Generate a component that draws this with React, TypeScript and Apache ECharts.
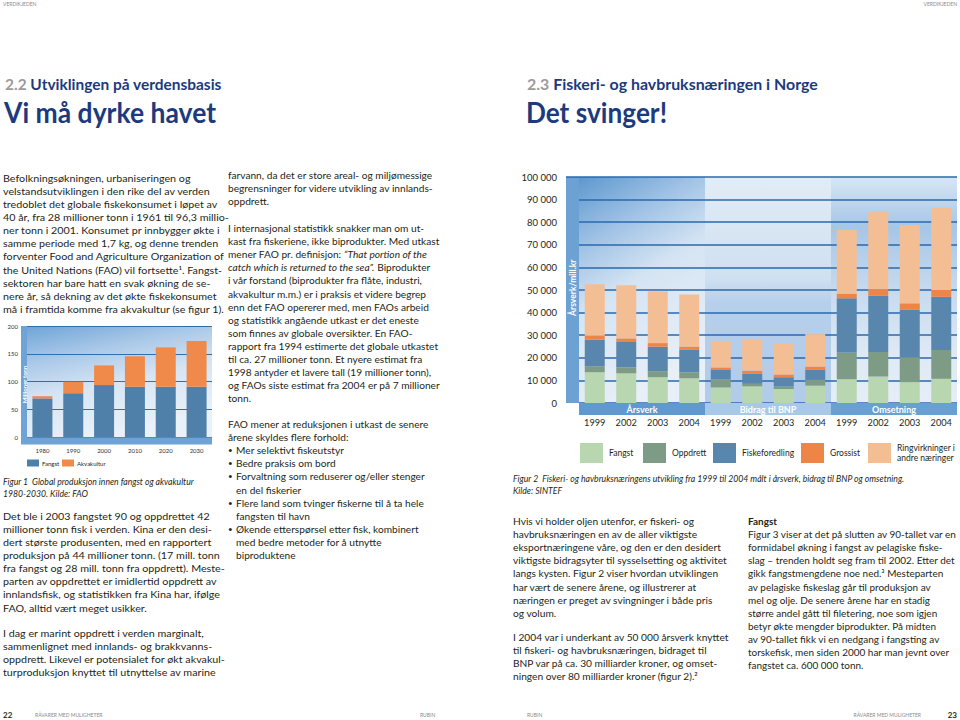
import React, { useEffect, useRef } from 'react';
import * as echarts from 'echarts';

// ---------------- Figure 1 data (millioner tonn) ----------------
const fig1Years = ['1980', '1990', '2000', '2010', '2020', '2030'];
const fig1Fangst = [69.5, 79, 93.5, 90.5, 90.5, 90.5];
const fig1Akvakultur = [4, 20.5, 35.5, 55, 71, 82.5];
const fig1YMax = 200;
const fig1YStep = 50;

// ---------------- Figure 2 data (årsverk / mill. kr) ----------------
const fig2Groups = ['Årsverk', 'Bidrag til BNP', 'Omsetning'];
const fig2Years = ['1999', '2002', '2003', '2004'];
const fig2Fangst = [13600, 13100, 11400, 10900, 6900, 7400, 6200, 7700, 10500, 11700, 9200, 10700];
const fig2Oppdrett = [2700, 2700, 2700, 2700, 3500, 1100, 1100, 2500, 11900, 10900, 11000, 12800];
const fig2Fiskeforedling = [11700, 11200, 10800, 9900, 4200, 4400, 4100, 4600, 23900, 24800, 21000, 23500];
const fig2Grossist = [1800, 1600, 1600, 1500, 1100, 1400, 1200, 1300, 2100, 2900, 2900, 3000];
const fig2Ringvirkninger = [22700, 23500, 23000, 23000, 11600, 13800, 13500, 14400, 28200, 34300, 34700, 36400];
const fig2YMax = 100000;
const fig2YStep = 10000;

// ---------------- Texts ----------------
const col1P1 = [
  'Befolkningsøkningen, urbaniseringen og',
  'velstandsutviklingen i den rike del av verden',
  'tredoblet det globale fiskekonsumet i løpet av',
  '40 år, fra 28 millioner tonn i 1961 til 96,3 millio-',
  'ner tonn i 2001. Konsumet pr innbygger økte i',
  'samme periode med 1,7 kg, og denne trenden',
  'forventer Food and Agriculture Organization of',
  'the United Nations (FAO) vil fortsette¹. Fangst-',
  'sektoren har bare hatt en svak økning de se-',
  'nere år, så dekning av det økte fiskekonsumet',
  'må i framtida komme fra akvakultur (se figur 1).',
];
const col1Caption = ['Figur 1  Global produksjon innen fangst og akvakultur', '1980-2030. Kilde: FAO'];
const col1P2 = [
  'Det ble i 2003 fangstet 90 og oppdrettet 42',
  'millioner tonn fisk i verden. Kina er den desi-',
  'dert største produsenten, med en rapportert',
  'produksjon på 44 millioner tonn. (17 mill. tonn',
  'fra fangst og 28 mill. tonn fra oppdrett). Meste-',
  'parten av oppdrettet er imidlertid oppdrett av',
  'innlandsfisk, og statistikken fra Kina har, ifølge',
  'FAO, alltid vært meget usikker.',
];
const col1P3 = [
  'I dag er marint oppdrett i verden marginalt,',
  'sammenlignet med innlands- og brakkvanns-',
  'oppdrett. Likevel er potensialet for økt akvakul-',
  'turproduksjon knyttet til utnyttelse av marine',
];
const col2P1 = [
  'farvann, da det er store areal- og miljømessige',
  'begrensninger for videre utvikling av innlands-',
  'oppdrett.',
];
const col2P2 = [
  'I internasjonal statistikk snakker man om ut-',
  'kast fra fiskeriene, ikke biprodukter. Med utkast',
  '{n|mener FAO pr. definisjon: }{i|“That portion of the}',
  '{i|catch which is returned to the sea”.}{n| Biprodukter}',
  'i vår forstand (biprodukter fra flåte, industri,',
  'akvakultur m.m.) er i praksis et videre begrep',
  'enn det FAO opererer med, men FAOs arbeid',
  'og statistikk angående utkast er det eneste',
  'som finnes av globale oversikter. En FAO-',
  'rapport fra 1994 estimerte det globale utkastet',
  'til ca. 27 millioner tonn. Et nyere estimat fra',
  '1998 antyder et lavere tall (19 millioner tonn),',
  'og FAOs siste estimat fra 2004 er på 7 millioner',
  'tonn.',
];
const col2P3 = ['FAO mener at reduksjonen i utkast de senere', 'årene skyldes flere forhold:'];
const col2Bullets = [
  ['Mer selektivt fiskeutstyr'],
  ['Bedre praksis om bord'],
  ['Forvaltning som reduserer og/eller stenger', 'en del fiskerier'],
  ['Flere land som tvinger fiskerne til å ta hele', 'fangsten til havn'],
  ['Økende etterspørsel etter fisk, kombinert', 'med bedre metoder for å utnytte', 'biproduktene'],
];
const col3P1 = [
  'Hvis vi holder oljen utenfor, er fiskeri- og',
  'havbruksnæringen en av de aller viktigste',
  'eksportnæringene våre, og den er den desidert',
  'viktigste bidragsyter til sysselsetting og aktivitet',
  'langs kysten. Figur 2 viser hvordan utviklingen',
  'har vært de senere årene, og illustrerer at',
  'næringen er preget av svingninger i både pris',
  'og volum.',
];
const col3P2 = [
  'I 2004 var i underkant av 50 000 årsverk knyttet',
  'til fiskeri- og havbruksnæringen, bidraget til',
  'BNP var på ca. 30 milliarder kroner, og omset-',
  'ningen over 80 milliarder kroner (figur 2).²',
];
const col4Title = 'Fangst';
const col4P = [
  'Figur 3 viser at det på slutten av 90-tallet var en',
  'formidabel økning i fangst av pelagiske fiske-',
  'slag – trenden holdt seg fram til 2002. Etter det',
  'gikk fangstmengdene noe ned.³ Mesteparten',
  'av pelagiske fiskeslag går til produksjon av',
  'mel og olje. De senere årene har en stadig',
  'større andel gått til filetering, noe som igjen',
  'betyr økte mengder biprodukter. På midten',
  'av 90-tallet fikk vi en nedgang i fangsting av',
  'torskefisk, men siden 2000 har man jevnt over',
  'fangstet ca. 600 000 tonn.',
];
const fig2Caption = [
  'Figur 2  Fiskeri- og havbruksnæringens utvikling fra 1999 til 2004 målt i årsverk, bidrag til BNP og omsetning.',
  'Kilde: SINTEF',
];

// ---------------- Styling ----------------
const FONT = 'Lato';
const INK = '#231f20';
const NAVY = '#1d3a7e';
const GREY = '#9b9b9b';
const BODY_SIZE = 10.2;
const LH = 13.1;

const C1 = { fangst: '#4f80aa', akva: '#f08a4b' };
const C2 = {
  fangst: '#b8d7b0',
  oppdrett: '#7e9b86',
  fiske: '#5886ad',
  grossist: '#ee8446',
  ring: '#f4be94',
};

const G1 = { left: 27, top: 326, width: 185, height: 111 };
const G2 = { left: 579, top: 177, width: 378, height: 226 };

let measureCtx: CanvasRenderingContext2D | null = null;
function measure(text: string, font: string): number {
  if (!measureCtx) measureCtx = document.createElement('canvas').getContext('2d');
  if (!measureCtx) return 0;
  measureCtx.font = font;
  return measureCtx.measureText(text).width;
}
function fontStr(size: number, weight = 'normal', style = 'normal') {
  return [style !== 'normal' ? style : '', weight !== 'normal' ? weight : '', `${size}px`, FONT]
    .filter(Boolean)
    .join(' ');
}
function fit(text: string, target: number, size: number, weight = 'normal', style = 'normal') {
  const w = measure(text, fontStr(size, weight, style));
  return w > 0 ? target / w : 1;
}

type TOpts = {
  size: number;
  weight?: string;
  style?: string;
  color?: string;
  align?: string;
  scaleX?: number;
  rotation?: number;
  rich?: any;
};
function txt(x: number, y: number, text: string, o: TOpts) {
  return {
    type: 'text',
    x,
    y,
    scaleX: o.scaleX ?? 1,
    rotation: o.rotation ?? 0,
    z: 20,
    silent: true,
    style: {
      text,
      fill: o.color ?? INK,
      fontSize: o.size,
      fontFamily: FONT,
      fontWeight: o.weight ?? 'normal',
      fontStyle: o.style ?? 'normal',
      align: o.align ?? 'left',
      verticalAlign: 'middle',
      rich: o.rich,
    },
  };
}
function para(x: number, y0: number, lines: string[], scaleX: number, extra: Partial<TOpts> = {}, lh = LH) {
  return lines.map((l, i) => txt(x, y0 + i * lh, l, { size: BODY_SIZE, scaleX, ...extra }));
}
function rect(x: number, y: number, w: number, h: number, fill: any, z = -1) {
  return { type: 'rect', z, silent: true, shape: { x, y, width: w, height: h }, style: { fill } };
}
const lg = (stops: [number, string][], x2 = 0, y2 = 1) =>
  new echarts.graphic.LinearGradient(0, 0, x2, y2, stops.map(([offset, color]) => ({ offset, color })));

function buildOption() {
  const fig2Cats = fig2Groups.flatMap((g) => fig2Years.map((y) => `${g}|${y}`));

  // column scales
  const s1 = fit(col1P1[1], 207, BODY_SIZE);
  const s2 = fit(col2P2[9], 210, BODY_SIZE);
  const s3 = fit(col3P1[3], 214, BODY_SIZE);
  const s4 = fit(col4P[0], 209, BODY_SIZE);
  const sCap1 = fit(col1Caption[0], 191, 9, 'normal', 'italic');
  const sCap2 = fit(fig2Caption[0], 392, 9, 'normal', 'italic');

  const richBody = (size: number) => ({
    n: { fontSize: size, fontFamily: FONT, fill: INK, fontStyle: 'normal' },
    i: { fontSize: size, fontFamily: FONT, fill: INK, fontStyle: 'italic' },
    g: { fontSize: size, fontFamily: FONT, fill: GREY, fontWeight: 'bold' },
    b: { fontSize: size, fontFamily: FONT, fill: NAVY, fontWeight: 'bold' },
  });

  const els: any[] = [];

  // ---- header ----
  els.push(txt(3, 4, 'VERDIKJEDEN', { size: 5, color: '#8a8a8a' }));
  els.push(txt(957, 4, 'VERDIKJEDEN', { size: 5, color: '#8a8a8a', align: 'right' }));
  const h2a = '2.2 Utviklingen på verdensbasis';
  const h2b = '2.3 Fiskeri- og havbruksnæringen i Norge';
  els.push(
    txt(5, 84, '{g|2.2 }{b|Utviklingen på verdensbasis}', {
      size: 15.5,
      weight: 'bold',
      scaleX: fit(h2a, 217, 15.5, 'bold'),
      rich: richBody(15.5),
    })
  );
  els.push(
    txt(527, 84, '{g|2.3 }{b|Fiskeri- og havbruksnæringen i Norge}', {
      size: 15.5,
      weight: 'bold',
      scaleX: fit(h2b, 291, 15.5, 'bold'),
      rich: richBody(15.5),
    })
  );
  els.push(txt(4, 112, 'Vi må dyrke havet', { size: 28, weight: 'bold', color: NAVY, scaleX: fit('Vi må dyrke havet', 212, 28, 'bold') }));
  els.push(txt(526, 112, 'Det svinger!', { size: 28, weight: 'bold', color: NAVY, scaleX: fit('Det svinger!', 141, 28, 'bold') }));

  // ---- column 1 ----
  els.push(...para(3, 178, col1P1, s1));
  els.push(...para(3, 481, col1Caption, sCap1, { style: 'italic', size: 9 }, 12.6));
  els.push(...para(3, 516, col1P2, s1));
  els.push(...para(3, 633, col1P3, s1));

  // ---- column 2 ----
  els.push(...para(228, 175, col2P1, s2));
  col2P2.forEach((l, i) => {
    const isRich = l.startsWith('{');
    els.push(
      txt(228, 228 + i * LH, l, { size: BODY_SIZE, scaleX: s2, rich: isRich ? richBody(BODY_SIZE) : undefined })
    );
  });
  els.push(...para(228, 424, col2P3, s2));
  let by = 424 + 2 * LH;
  col2Bullets.forEach((b) => {
    els.push(txt(228, by, '•', { size: 8, scaleX: s2 }));
    b.forEach((l) => {
      els.push(txt(236, by, l, { size: BODY_SIZE, scaleX: s2 }));
      by += LH;
    });
  });

  // ---- column 3 / 4 ----
  els.push(...para(513, 521, col3P1, s3));
  els.push(...para(513, 637, col3P2, s3));
  els.push(txt(748, 521, col4Title, { size: BODY_SIZE, weight: 'bold', scaleX: s4 }));
  els.push(...para(748, 521 + LH, col4P, s4));
  els.push(...para(513, 478, fig2Caption, sCap2, { style: 'italic', size: 9 }, 12.4));

  // ---- footer ----
  els.push(txt(3, 715, '22', { size: 8, weight: 'bold' }));
  els.push(txt(35, 715, 'RÅVARER MED MULIGHETER', { size: 5, color: '#8a8a8a' }));
  els.push(txt(420, 715, 'RUBIN', { size: 5, color: '#8a8a8a' }));
  els.push(txt(527, 715, 'RUBIN', { size: 5, color: '#8a8a8a' }));
  els.push(txt(921, 715, 'RÅVARER MED MULIGHETER', { size: 5, color: '#8a8a8a', align: 'right' }));
  els.push(txt(957, 715, '23', { size: 8, weight: 'bold', align: 'right' }));

  // ---- figure 1 decorations ----
  els.push(
    rect(G1.left, G1.top, G1.width, G1.height,
      lg([[0, '#6ea4d8'], [0.3, '#a9c8e8'], [0.6, '#d6e5f4'], [1, '#e9f1f9']], 0.35, 1))
  );
  els.push(rect(G1.left - 6, G1.top, 6, G1.height + 7, '#6fa3d6', 5));
  els.push(rect(G1.left - 6, G1.top + G1.height + 0.5, G1.width + 6, 7, '#6fa3d6', 5));
  els.push(txt(G1.left - 3, G1.top + G1.height * 0.5 + 3, 'Millioner tonn', {
    size: 6, weight: 'bold', color: '#ffffff', align: 'center', rotation: Math.PI / 2,
  }));

  // ---- figure 2 decorations ----
  const sw = G2.width / 3;
  els.push(rect(G2.left, G2.top, sw, G2.height,
    lg([[0, '#5e98cf'], [0.3, '#a3c4e6'], [0.55, '#d5e4f3'], [1, '#e7eff8']], 0.35, 1)));
  els.push(rect(G2.left + sw, G2.top, sw, G2.height,
    lg([[0, '#e2ecf6'], [0.45, '#cfe0f1'], [0.56, '#b6cfeb'], [1, '#b1cbe9']])));
  els.push(rect(G2.left + 2 * sw, G2.top, sw, G2.height,
    lg([[0, '#d8e6f4'], [0.22, '#a6c6e6'], [0.5, '#c6daef'], [0.8, '#dfeaf5'], [1, '#e5eef7']])));
  els.push(rect(G2.left - 13, G2.top, 13, G2.height, '#6ca1d4', 5));
  els.push({ type: 'line', z: 5, silent: true, shape: { x1: G2.left - 13, y1: G2.top, x2: G2.left, y2: G2.top }, style: { stroke: '#2a68ab', lineWidth: 1.5 } });
  els.push(txt(G2.left - 6.5, G2.top + G2.height * 0.49, 'Årsverk/mill.kr', {
    size: 8.5, weight: 'bold', color: '#ffffff', align: 'center', rotation: Math.PI / 2,
  }));
  const bandColors = ['#5f99d0', '#a8c8e8', '#69a0d4'];
  fig2Groups.forEach((g, i) => {
    els.push(rect(G2.left + i * sw, G2.top + G2.height, sw, 12, bandColors[i], 5));
    els.push(txt(G2.left + i * sw + sw / 2, G2.top + G2.height + 6.3, g, {
      size: 9, weight: 'bold', color: '#ffffff', align: 'center',
    }));
  });

  const legendNames: Record<string, string> = {
    'f1:Fangst': 'Fangst',
    'f1:Akvakultur': 'Akvakultur',
    'f2:Fangst': 'Fangst',
    'f2:Oppdrett': 'Oppdrett',
    'f2:Fiskeforedling': 'Fiskeforedling',
    'f2:Grossist': 'Grossist',
    'f2:Ringvirkninger': 'Ringvirkninger i\nandre næringer',
  };
  const mkLegend = (name: string, left: number, top: number, big: boolean) => ({
    data: [name],
    left,
    top,
    padding: 0,
    itemGap: 0,
    icon: 'rect',
    itemWidth: big ? 23 : 12,
    itemHeight: big ? 20 : 7,
    selectedMode: false,
    formatter: (n: string) => legendNames[n] ?? n,
    textStyle: {
      fontSize: big ? 8.5 : 6,
      color: INK,
      fontFamily: FONT,
      lineHeight: big ? 10 : 7,
      padding: big ? [0, 0, 0, 1] : [0, 0, 0, -2],
    },
  });

  const thousands = (v: number) => String(v).replace(/\B(?=(\d{3})+(?!\d))/g, ' ');

  const bar2 = (name: string, data: number[], color: string) => ({
    type: 'bar',
    name,
    xAxisIndex: 1,
    yAxisIndex: 1,
    stack: 'fig2',
    barWidth: 20,
    data,
    itemStyle: { color },
    emphasis: { disabled: true },
  });

  return {
    animation: false,
    backgroundColor: '#ffffff',
    textStyle: { fontFamily: FONT },
    grid: [
      { ...G1, containLabel: false },
      { ...G2, containLabel: false },
    ],
    xAxis: [
      {
        gridIndex: 0,
        type: 'category',
        data: fig1Years,
        axisLine: { show: false },
        axisTick: { show: false },
        axisLabel: { fontSize: 6, color: '#333', margin: 10, fontFamily: FONT },
      },
      {
        gridIndex: 1,
        type: 'category',
        data: fig2Cats,
        axisLine: { show: false },
        axisTick: { show: false },
        axisLabel: {
          fontSize: 9.2,
          color: INK,
          margin: 15,
          fontFamily: FONT,
          interval: 0,
          formatter: (v: string) => v.split('|')[1],
        },
      },
    ],
    yAxis: [
      {
        gridIndex: 0,
        type: 'value',
        min: 0,
        max: fig1YMax,
        interval: fig1YStep,
        axisLine: { show: false },
        axisTick: { show: false },
        axisLabel: { fontSize: 6, color: '#333', margin: 9, fontFamily: FONT },
        splitLine: { lineStyle: { color: '#2f6fb0', width: 1 } },
      },
      {
        gridIndex: 1,
        type: 'value',
        min: 0,
        max: fig2YMax,
        interval: fig2YStep,
        axisLine: { show: false },
        axisTick: { show: false },
        axisLabel: { fontSize: 9.5, color: INK, margin: 22, fontFamily: FONT, formatter: thousands },
        splitLine: { lineStyle: { color: '#2a68ab', width: 1.5 } },
      },
    ],
    legend: [
      mkLegend('f1:Fangst', 27, 459.5, false),
      mkLegend('f1:Akvakultur', 62, 459.5, false),
      mkLegend('f2:Fangst', 580, 443, true),
      mkLegend('f2:Oppdrett', 643, 443, true),
      mkLegend('f2:Fiskeforedling', 713, 443, true),
      mkLegend('f2:Grossist', 801, 443, true),
      mkLegend('f2:Ringvirkninger', 868, 443, true),
    ],
    series: [
      {
        type: 'bar', name: 'f1:Fangst', xAxisIndex: 0, yAxisIndex: 0, stack: 'fig1', barWidth: 20,
        data: fig1Fangst, itemStyle: { color: C1.fangst }, emphasis: { disabled: true },
      },
      {
        type: 'bar', name: 'f1:Akvakultur', xAxisIndex: 0, yAxisIndex: 0, stack: 'fig1', barWidth: 20,
        data: fig1Akvakultur, itemStyle: { color: C1.akva }, emphasis: { disabled: true },
      },
      bar2('f2:Fangst', fig2Fangst, C2.fangst),
      bar2('f2:Oppdrett', fig2Oppdrett, C2.oppdrett),
      bar2('f2:Fiskeforedling', fig2Fiskeforedling, C2.fiske),
      bar2('f2:Grossist', fig2Grossist, C2.grossist),
      bar2('f2:Ringvirkninger', fig2Ringvirkninger, C2.ring),
    ],
    graphic: { elements: els },
  };
}

export default function App() {
  const ref = useRef<HTMLDivElement>(null);
  useEffect(() => {
    if (!ref.current) return;
    const chart = echarts.init(ref.current, undefined, { renderer: 'svg', width: 960, height: 720 });
    chart.setOption(buildOption() as any);
    return () => chart.dispose();
  }, []);
  return (
    <div
      ref={ref}
      style={{ position: 'absolute', left: 0, top: 0, width: 960, height: 720, background: '#ffffff' }}
    />
  );
}
